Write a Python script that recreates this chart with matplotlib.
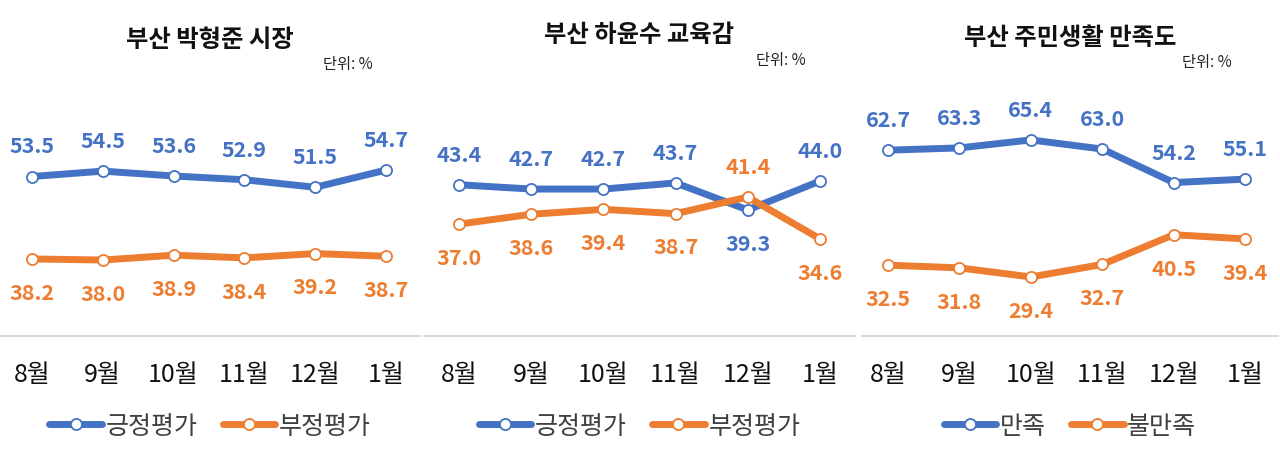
import matplotlib.pyplot as plt

plt.rcParams['font.family'] = ['Noto Sans CJK KR', 'DejaVu Sans']

# Data
months = ["8월", "9월", "10월", "11월", "12월", "1월"]

titles = ["부산 박형준 시장", "부산 하윤수 교육감", "부산 주민생활 만족도"]

mayor_pos = [53.5, 54.5, 53.6, 52.9, 51.5, 54.7]
mayor_neg = [38.2, 38.0, 38.9, 38.4, 39.2, 38.7]

edu_pos = [43.4, 42.7, 42.7, 43.7, 39.3, 44.0]
edu_neg = [37.0, 38.6, 39.4, 38.7, 41.4, 34.6]

life_sat = [62.7, 63.3, 65.4, 63.0, 54.2, 55.1]
life_dissat = [32.5, 31.8, 29.4, 32.7, 40.5, 39.4]

legend_names = [("긍정평가", "부정평가"), ("긍정평가", "부정평가"), ("만족", "불만족")]

# Layout per panel (pixel-based)
W, H = 1280, 477
BLUE = "#4472C4"
ORANGE = "#ED7D31"
panels = [
    # left px, width px, xlim, ylim, label side for (blue, orange)
    dict(left=0, width=420, xlim=(-0.452, 5.48), ylim=(23.9, 71.6), title_y=40, unit_y=65,
         blue_side=["up"] * 6, orange_side=["down"] * 6),
    dict(left=424, width=431, xlim=(-0.485, 5.485), ylim=(18.8, 60.6), title_y=35, unit_y=61,
         blue_side=["up", "up", "up", "up", "down", "up"],
         orange_side=["down", "down", "down", "down", "up", "down"]),
    dict(left=862, width=416, xlim=(-0.364, 5.46), ylim=(13.9, 81.4), title_y=38, unit_y=62,
         blue_side=["up"] * 6, orange_side=["down"] * 6),
]
series = [(mayor_pos, mayor_neg), (edu_pos, edu_neg), (life_sat, life_dissat)]

fig = plt.figure(figsize=(W / 100, H / 100), dpi=100)
fig.patch.set_facecolor("white")

bottom_px, top_px = 337, 80
for p, (pos, neg), title, names in zip(panels, series, titles, legend_names):
    ax = fig.add_axes([p["left"] / W, 1 - bottom_px / H, p["width"] / W, (bottom_px - top_px) / H])
    x = list(range(len(months)))
    for vals, color, sides, name in ((pos, BLUE, p["blue_side"], names[0]),
                                     (neg, ORANGE, p["orange_side"], names[1])):
        ax.plot(x, vals, color=color, lw=5, marker="o", markersize=8,
                markerfacecolor="white", markeredgecolor=color, markeredgewidth=1.3,
                label=name, solid_capstyle="round", zorder=3)
        for xi, v, s in zip(x, vals, sides):
            dy = 22 if s == "up" else -24
            ax.annotate(f"{v:.1f}", (xi, v), xytext=(0, dy), textcoords="offset points",
                        ha="center", va="center", fontsize=15.5, fontweight="bold",
                        color=color)
    ax.set_xlim(*p["xlim"])
    ax.set_ylim(*p["ylim"])
    ax.set_yticks([])
    ax.set_xticks(x, months)
    ax.tick_params(axis="x", length=0, pad=18, labelsize=18, labelcolor="#111111")
    for s in ("top", "left", "right"):
        ax.spines[s].set_visible(False)
    ax.spines["bottom"].set_color("#d9d9d9")
    ax.spines["bottom"].set_linewidth(1.5)
    ax.patch.set_alpha(0)

    cx = (p["left"] + p["width"] / 2) / W
    fig.text(cx, 1 - p["title_y"] / H, title, ha="center", va="center", fontsize=17.5,
             fontweight="bold", color="#111111")
    fig.text((p["left"] + p["width"] * 0.828) / W, 1 - p["unit_y"] / H, "단위: %", ha="center",
             va="center", fontsize=11, color="#222222")

    ax.legend(loc="center", bbox_to_anchor=(0.5, -0.35), ncol=2, frameon=False,
              fontsize=18, handlelength=2.1, handletextpad=0.15, columnspacing=1.0,
              labelcolor="#404040")

fig.savefig("out.png", dpi=100, facecolor="white")
